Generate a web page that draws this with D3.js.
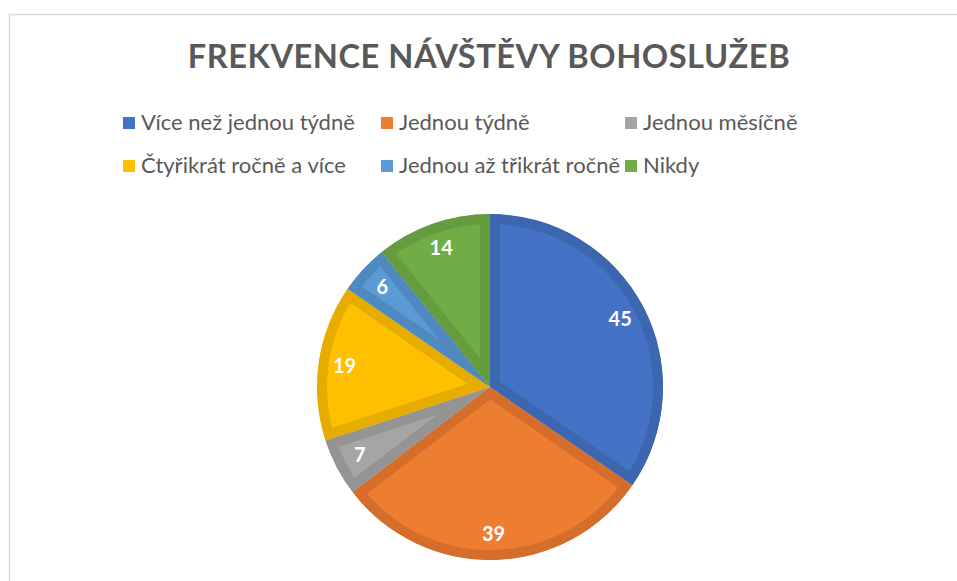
<!DOCTYPE html>
<html>
<head>
<meta charset="utf-8">
<script src="https://cdn.jsdelivr.net/npm/d3@7"></script>
<style>
  html, body { margin: 0; padding: 0; background: #fff; }
  svg { display: block; }
</style>
</head>
<body>
<svg id="chart" width="957" height="581"></svg>
<script>
const title = "FREKVENCE NÁVŠTĚVY BOHOSLUŽEB";
const categories = ["Více než jednou týdně", "Jednou týdně", "Jednou měsíčně", "Čtyřikrát ročně a více", "Jednou až třikrát ročně", "Nikdy"];
const values = [45, 39, 7, 19, 6, 14];
const fills = ["#4472C4", "#ED7D31", "#A5A5A5", "#FFC000", "#5B9BD5", "#70AD47"];
const strokes = ["#3D66B0", "#D56E2A", "#949494", "#E6AC00", "#5089C0", "#659C3F"];

const svg = d3.select("#chart");
const FONT = "Lato, 'Open Sans', sans-serif";

// frame
svg.append("rect").attr("x", 9.5).attr("y", 14.5).attr("width", 1000).attr("height", 700)
  .attr("fill", "#fff").attr("stroke", "#d9d9d9").attr("stroke-width", 1.5);

// title
const t = svg.append("text").attr("x", 489).attr("y", 68).attr("text-anchor", "middle")
  .attr("font-family", FONT).attr("font-weight", "bold").attr("fill", "#595959")
  .attr("font-size", 32).style("letter-spacing", "0.5px").text(title);
{
  const w = t.node().getComputedTextLength();
  t.attr("font-size", 32 * 603 / w);
}

// legend
const legendPos = [
  {x: 123, y: 123}, {x: 381, y: 123}, {x: 625, y: 123},
  {x: 123, y: 166}, {x: 381, y: 166}, {x: 625, y: 166}
];
const lg = svg.append("g");
const items = lg.selectAll("g").data(categories).join("g")
  .attr("transform", (d, i) => `translate(${legendPos[i].x},${legendPos[i].y})`);
items.append("rect").attr("x", 0).attr("y", -6).attr("width", 12).attr("height", 12)
  .attr("fill", (d, i) => fills[i]);
const ltexts = items.append("text").attr("x", 18).attr("y", 7)
  .attr("font-family", FONT).attr("font-size", 20).attr("fill", "#595959").text(d => d);
{
  const w = ltexts.nodes()[0].getComputedTextLength();
  ltexts.attr("font-size", 20 * 214 / w);
}

// pie
const cx = 490, cy = 387, R = 173;
const pie = d3.pie().sort(null).value(d => d)(values);
const arc = d3.arc().innerRadius(0).outerRadius(R);
const labelArc = d3.arc().innerRadius(147).outerRadius(147);
const g = svg.append("g").attr("transform", `translate(${cx},${cy})`);
const defs = svg.append("defs");
pie.forEach((p, i) => {
  defs.append("clipPath").attr("id", "clip" + i).append("path").attr("d", arc(p));
});
g.selectAll("path.slice").data(pie).join("path").attr("class", "slice")
  .attr("d", arc).attr("fill", (d, i) => fills[i])
  .attr("stroke", (d, i) => strokes[i]).attr("stroke-width", 20)
  .attr("clip-path", (d, i) => `url(#clip${i})`);

g.selectAll("text.lbl").data(pie).join("text").attr("class", "lbl")
  .attr("transform", d => `translate(${labelArc.centroid(d)})`)
  .attr("text-anchor", "middle").attr("dy", "0.35em")
  .attr("font-family", FONT).attr("font-weight", "bold").attr("font-size", 20)
  .attr("fill", "#fff").text(d => d.data);
</script>
</body>
</html>
